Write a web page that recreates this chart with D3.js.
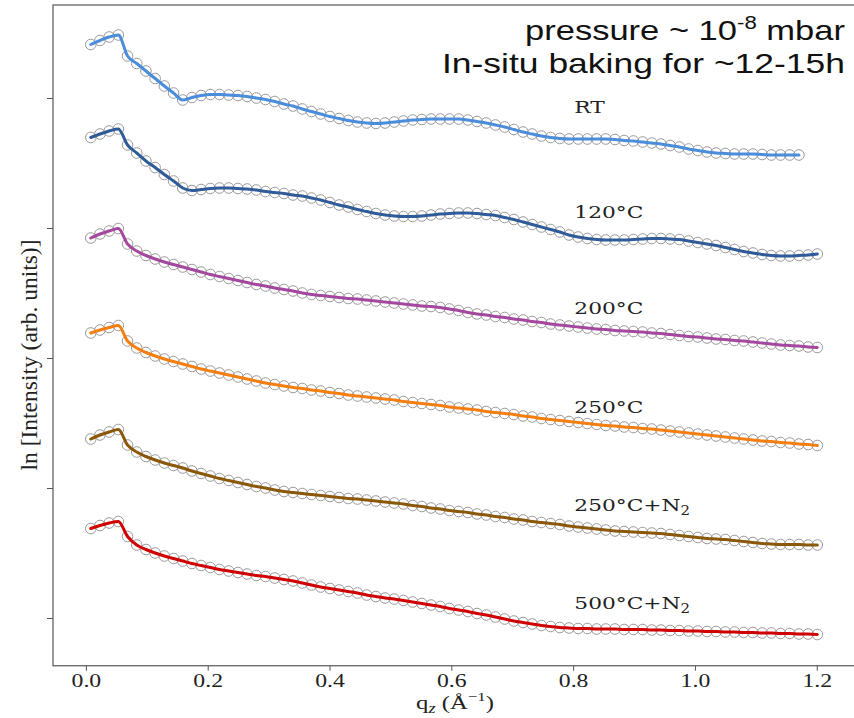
<!DOCTYPE html>
<html><head><meta charset="utf-8">
<script src="https://cdn.jsdelivr.net/npm/d3@7/dist/d3.min.js"></script>
<style>body{margin:0;background:#fff}</style>
</head><body>
<svg id="chart" width="854" height="718"></svg>
<script>
// ---------- DATA ----------
const qz = [0.0080,0.0231,0.0382,0.0533,0.0684,0.0835,0.0986,0.1137,0.1288,0.1439,
0.1590,0.1741,0.1892,0.2043,0.2194,0.2345,0.2496,0.2647,0.2798,0.2949,
0.3100,0.3251,0.3402,0.3553,0.3704,0.3855,0.4006,0.4157,0.4308,0.4459,
0.4610,0.4761,0.4912,0.5063,0.5214,0.5365,0.5516,0.5667,0.5818,0.5969,
0.6120,0.6271,0.6422,0.6573,0.6724,0.6875,0.7026,0.7177,0.7328,0.7479,
0.7630,0.7781,0.7932,0.8083,0.8234,0.8385,0.8536,0.8687,0.8838,0.8989,
0.9140,0.9291,0.9442,0.9593,0.9744,0.9895,1.0046,1.0197,1.0348,1.0499,
1.0650,1.0801,1.0952,1.1103,1.1254,1.1405,1.1556,1.1707,1.1858,1.2009];

const seriesNames = ["RT", "120°C", "200°C", "250°C", "250°C+N2", "500°C+N2"];

const rtVals = [57.35,57.75,58.1,58.3,56.2,55.45,54.7,53.95,53.2,52.5,
51.8,52.05,52.25,52.35,52.35,52.3,52.25,52.15,52.0,51.85,
51.65,51.4,51.2,50.9,50.65,50.4,50.15,49.95,49.75,49.6,
49.5,49.45,49.5,49.6,49.7,49.8,49.85,49.9,49.9,49.9,
49.9,49.8,49.65,49.5,49.3,49.1,48.85,48.6,48.4,48.2,
48.05,47.95,47.9,47.9,47.9,47.9,47.9,47.85,47.75,47.7,
47.6,47.5,47.4,47.25,47.1,46.9,46.75,46.6,46.5,46.45,
46.4,46.4,46.4,46.35,46.3,46.3,46.3,46.3];

const t120Vals = [48.05,48.4,48.7,48.9,47.3,46.5,45.7,45.05,44.35,43.7,
43.0,42.75,42.85,42.95,43.0,43.0,42.95,42.9,42.8,42.65,
42.55,42.45,42.3,42.2,42.0,41.8,41.55,41.3,41.1,40.85,
40.65,40.45,40.3,40.2,40.15,40.15,40.2,40.3,40.4,40.45,
40.5,40.5,40.45,40.35,40.25,40.05,39.85,39.6,39.35,39.1,
38.85,38.6,38.3,38.1,37.95,37.85,37.8,37.8,37.8,37.85,
37.9,37.95,37.95,37.9,37.85,37.7,37.55,37.4,37.25,37.05,
36.85,36.65,36.5,36.35,36.25,36.2,36.2,36.25,36.3,36.4];

const t200Vals = [38.0,38.4,38.7,38.95,37.4,36.7,36.25,35.9,35.6,35.35,
35.1,34.85,34.6,34.35,34.15,33.95,33.75,33.55,33.35,33.2,
33.0,32.85,32.7,32.5,32.35,32.25,32.15,32.05,31.95,31.9,
31.8,31.7,31.6,31.5,31.4,31.3,31.2,31.15,31.05,30.9,
30.75,30.55,30.4,30.3,30.15,30.05,29.9,29.8,29.65,29.55,
29.4,29.3,29.2,29.1,29.0,28.9,28.85,28.75,28.7,28.65,
28.6,28.5,28.45,28.35,28.25,28.15,28.1,28.0,27.9,27.85,
27.75,27.7,27.6,27.5,27.4,27.3,27.25,27.2,27.1,27.05];

const t250Vals = [28.5,28.8,29.05,29.25,27.7,27.0,26.55,26.2,25.9,25.65,
25.4,25.15,24.9,24.7,24.5,24.3,24.1,23.9,23.7,23.5,
23.35,23.2,23.05,22.95,22.8,22.7,22.55,22.45,22.3,22.2,
22.1,22.0,21.9,21.8,21.65,21.55,21.45,21.35,21.25,21.1,
21.0,20.9,20.8,20.65,20.55,20.45,20.35,20.2,20.1,19.95,
19.85,19.75,19.65,19.55,19.45,19.35,19.25,19.2,19.1,19.05,
18.95,18.9,18.8,18.7,18.6,18.5,18.4,18.3,18.2,18.1,
18.0,17.9,17.8,17.7,17.65,17.55,17.5,17.4,17.35,17.25];

const t250N2Vals = [17.9,18.3,18.6,18.85,17.3,16.6,16.15,15.8,15.5,15.25,
15.0,14.7,14.45,14.2,13.95,13.75,13.55,13.35,13.15,13.0,
12.8,12.65,12.55,12.45,12.35,12.25,12.15,12.05,11.95,11.9,
11.8,11.7,11.6,11.5,11.4,11.25,11.15,11.0,10.9,10.75,
10.65,10.55,10.4,10.3,10.15,10.05,9.9,9.8,9.65,9.55,
9.45,9.35,9.2,9.1,9.0,8.9,8.8,8.7,8.65,8.6,
8.55,8.5,8.45,8.35,8.25,8.15,8.05,7.95,7.9,7.85,
7.75,7.65,7.55,7.45,7.4,7.35,7.35,7.35,7.3,7.3];

const t500N2Vals = [8.95,9.25,9.5,9.65,8.15,7.3,6.85,6.5,6.2,5.95,
5.7,5.45,5.25,5.05,4.85,4.7,4.55,4.4,4.25,4.15,
4.0,3.85,3.7,3.5,3.3,3.1,2.95,2.8,2.65,2.5,
2.3,2.15,2.0,1.9,1.75,1.6,1.45,1.3,1.15,0.95,
0.8,0.65,0.45,0.3,0.1,-0.1,-0.3,-0.45,-0.6,-0.75,
-0.85,-0.95,-1.0,-1.05,-1.05,-1.1,-1.1,-1.1,-1.15,-1.15,
-1.15,-1.2,-1.2,-1.25,-1.25,-1.3,-1.3,-1.35,-1.35,-1.4,
-1.4,-1.45,-1.45,-1.5,-1.5,-1.55,-1.55,-1.6,-1.6,-1.65];

const xTickValues = [0.0, 0.2, 0.4, 0.6, 0.8, 1.0, 1.2];
const yTickValues = [0, 13, 26, 39, 52];
const xLabel = ["q", "z", " (Å", "−1", ")"];
const yLabel = "ln [Intensity (arb. units)]";
const titleLine1 = ["pressure ~ 10", "-8", " mbar"];
const titleLine2 = "In-situ baking for ~12-15h";

// ---------- LAYOUT / STYLE ----------
const allVals = [rtVals, t120Vals, t200Vals, t250Vals, t250N2Vals, t500N2Vals];
const colors = ["#4a8ddb", "#2f5c99", "#a4479f", "#f57e10", "#8b5708", "#d10000"];
const labelQ = 0.802;
const labelV = [50.53, 40.0, 30.4, 20.47, 10.73, 0.87];

const svg = d3.select("#chart");
const pL = 53, pT = 5, pB = 665.7, pR = 860;
const x = d3.scaleLinear().domain([-0.054, 1.271]).range([pL, pR]);
const y = d3.scaleLinear().domain([-4.77, 61.3]).range([pB, pT]);

svg.append("rect").attr("width", 854).attr("height", 718).attr("fill", "#fff");

// curves
const line = d3.line().x((d, i) => x(qz[i])).y(d => y(d)).curve(d3.curveMonotoneX);
allVals.forEach((vals, s) => {
  const g = svg.append("g");
  g.selectAll("circle").data(vals).join("circle")
    .attr("cx", (d, i) => x(qz[i])).attr("cy", d => y(d)).attr("r", 5.3)
    .attr("fill", "none").attr("stroke", "#9a9a9a").attr("stroke-width", 1);
  g.append("path").datum(vals).attr("d", line)
    .attr("fill", "none").attr("stroke", colors[s]).attr("stroke-width", 3)
    .attr("stroke-linejoin", "round").attr("stroke-linecap", "round");
});

// frame (right side lies beyond the visible canvas)
svg.append("rect").attr("x", pL).attr("y", pT)
  .attr("width", 900 - pL).attr("height", pB - pT)
  .attr("fill", "none").attr("stroke", "#6e6e6e").attr("stroke-width", 1.4);

// x axis
const gx = svg.append("g").attr("transform", `translate(0,${pB})`)
  .call(d3.axisBottom(x).tickValues(xTickValues).tickFormat(d3.format(".1f")).tickSize(5).tickPadding(4));
gx.select(".domain").remove();
gx.selectAll(".tick line").attr("stroke", "#555");
gx.selectAll(".tick text").attr("font-family", "'Liberation Serif', serif")
  .attr("font-size", 18).attr("fill", "#222").attr("transform", "scale(1.32,1)");

// y axis (ticks only)
const gy = svg.append("g").attr("transform", `translate(${pL},0)`)
  .call(d3.axisLeft(y).tickValues(yTickValues).tickFormat("").tickSize(6));
gy.select(".domain").remove();
gy.selectAll(".tick line").attr("stroke", "#555");

// x label
const xl = svg.append("text").attr("text-anchor", "middle")
  .attr("transform", "translate(455,709) scale(1.3,1)")
  .attr("font-family", "'Liberation Serif', serif").attr("font-size", 19).attr("fill", "#222");
xl.append("tspan").text(xLabel[0]);
xl.append("tspan").attr("font-style", "italic").attr("font-size", 14).attr("dy", 4).text(xLabel[1]);
xl.append("tspan").attr("dy", -4).text(xLabel[2]);
xl.append("tspan").attr("font-size", 13).attr("dy", -8).text(xLabel[3]);
xl.append("tspan").attr("dy", 8).text(xLabel[4]);

// y label
svg.append("text").attr("text-anchor", "middle")
  .attr("transform", "translate(37,355) rotate(-90)")
  .attr("font-family", "'Liberation Serif', serif").attr("font-size", 23.5).attr("fill", "#222")
  .text(yLabel);

// curve labels
seriesNames.forEach((name, s) => {
  const t = svg.append("text")
    .attr("transform", `translate(${x(labelQ)},${y(labelV[s])}) scale(1.25,1)`)
    .attr("font-family", "'DejaVu Serif', serif").attr("font-size", 17.4).attr("fill", "#222");
  if (name.endsWith("N2")) {
    t.append("tspan").text(name.slice(0, -1));
    t.append("tspan").attr("font-size", 12).attr("dy", 4).text(name.slice(-1));
  } else {
    t.text(name);
  }
});

// title
const t1 = svg.append("text").attr("x", 525).attr("y", 40)
  .attr("font-family", "'Liberation Sans', sans-serif").attr("font-size", 28).attr("fill", "#111")
  .attr("textLength", 320).attr("lengthAdjust", "spacingAndGlyphs");
t1.append("tspan").text(titleLine1[0]);
t1.append("tspan").attr("font-size", 18).attr("dy", -11).text(titleLine1[1]);
t1.append("tspan").attr("dy", 11).text(titleLine1[2]);
svg.append("text").attr("x", 442).attr("y", 73)
  .attr("font-family", "'Liberation Sans', sans-serif").attr("font-size", 28).attr("fill", "#111")
  .attr("textLength", 403).attr("lengthAdjust", "spacingAndGlyphs")
  .text(titleLine2);
</script>
</body></html>
